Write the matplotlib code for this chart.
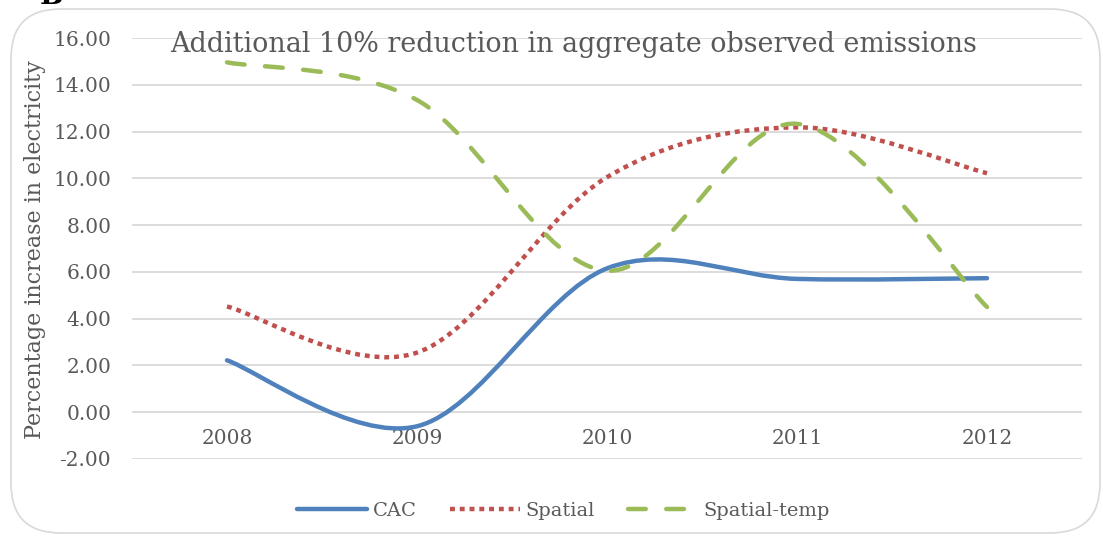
import numpy as np
import matplotlib
matplotlib.use("Agg")
import matplotlib.pyplot as plt
from matplotlib.path import Path
from matplotlib.patches import PathPatch, FancyBboxPatch
from matplotlib.lines import Line2D

years = ["2008", "2009", "2010", "2011", "2012"]
cac = [2.22, -0.60, 6.15, 5.70, 5.73]
spatial = [4.52, 2.55, 10.05, 12.18, 10.22]
spatial_temp = [14.96, 13.35, 6.05, 12.33, 4.50]

plt.rcParams['font.family'] = ['DejaVu Serif']
grey = '#595959'


def smooth_path(xs, ys):
    # Excel-like smoothed line: Catmull-Rom as cubic Bezier segments
    pts = np.column_stack([xs, ys]).astype(float)
    n = len(pts)
    verts = [pts[0]]
    codes = [Path.MOVETO]
    for i in range(n - 1):
        p0 = pts[max(i - 1, 0)]
        p1 = pts[i]
        p2 = pts[i + 1]
        p3 = pts[min(i + 2, n - 1)]
        c1 = p1 + (p2 - p0) / 6.0
        c2 = p2 - (p3 - p1) / 6.0
        verts += [c1, c2, p2]
        codes += [Path.CURVE4] * 3
    return Path(verts, codes)


fig = plt.figure(figsize=(11.03, 5.43), dpi=100)
W, H = 1103, 543

# rounded chart border
fig.patches.append(FancyBboxPatch((11 / W, 1 - 533 / H), 1089 / W, 524 / H,
                                  boxstyle="round,pad=0,rounding_size=0.045",
                                  transform=fig.transFigure, fc='none',
                                  ec='#D9D9D9', lw=1.2, zorder=-1,
                                  mutation_aspect=W / H))

ax = fig.add_axes([132 / W, 1 - 459 / H, 950 / W, 421 / H])
ax.set_facecolor('none')
x = np.arange(len(years))

styles = [
    (cac, '#4F81BD', '-', 'round', 'CAC'),
    (spatial, '#C0504D', (0, (1.1, 1.1)), 'butt', 'Spatial'),
    (spatial_temp, '#9BBB59', (0, (4.0, 4.6)), 'round', 'Spatial-temp'),
]
handles = []
for vals, col, ls, cap, name in styles:
    patch = PathPatch(smooth_path(x, vals), fill=False, ec=col, lw=3.2,
                      ls=ls, capstyle=cap, joinstyle='round', zorder=3)
    ax.add_patch(patch)
    handles.append(Line2D([], [], color=col, lw=3.2, ls=ls,
                          dash_capstyle=cap, solid_capstyle=cap, label=name))

ax.set_xlim(-0.5, 4.5)
ax.set_ylim(-2, 16)
ax.set_yticks(np.arange(-2, 17, 2))
ax.set_yticklabels([f"{v:.2f}" for v in np.arange(-2, 17, 2)])
ax.set_xticks(x)
ax.set_xticklabels(years)
ax.grid(axis='y', color='#D9D9D9', lw=1.3)
ax.set_axisbelow(True)
for s in ['top', 'right', 'left']:
    ax.spines[s].set_visible(False)
ax.spines['bottom'].set_position(('data', 0))
ax.spines['bottom'].set_visible(False)
ax.tick_params(axis='y', length=0, pad=15, labelsize=14.5, labelcolor=grey)
ax.tick_params(axis='x', length=0, pad=12, labelsize=14.5, labelcolor=grey)

fig.text(35 / W, 1 - 250 / H, "Percentage increase in electricity",
         rotation=90, ha='center', va='center', fontsize=16, color=grey)
fig.text(574 / W, 1 - 45 / H,
         "Additional 10% reduction in aggregate observed emissions",
         ha='center', va='center', fontsize=19.4, color=grey)
fig.text(40 / W, 1 - 4 / H, "B", ha='left', va='baseline', fontsize=20,
         fontweight='bold', color='black')

leg = fig.legend(handles=handles, loc='center', ncol=3,
                 bbox_to_anchor=(563.5 / W, 1 - 511 / H), frameon=False,
                 fontsize=14, handlelength=3.6, handletextpad=0.3,
                 columnspacing=1.7)
for t in leg.get_texts():
    t.set_color(grey)

fig.savefig("out.png", dpi=100)
